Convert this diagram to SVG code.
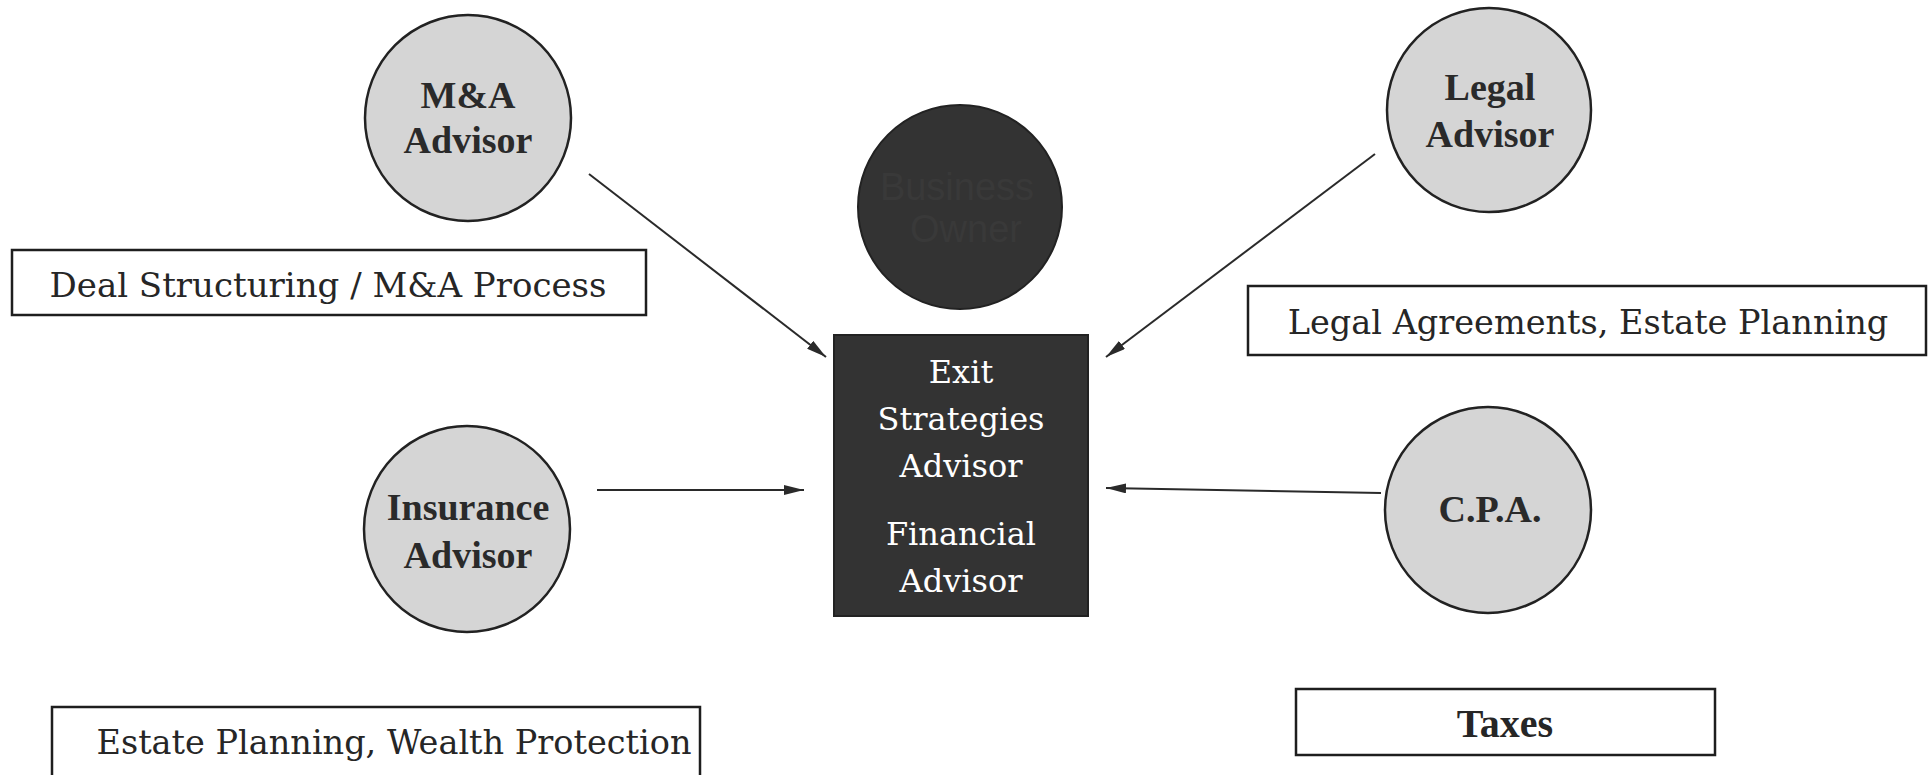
<svg xmlns="http://www.w3.org/2000/svg" width="1932" height="775" viewBox="0 0 1932 775">
  <style>
    .advisor circle { fill: #d5d5d5; stroke: #222; stroke-width: 2.5; }
    .advisor text { font-family: "Liberation Serif", serif; font-weight: bold; font-size: 38px; fill: #2a2a2a; text-anchor: middle; }
    .label rect { fill: #fff; stroke: #1e1e1e; stroke-width: 2.5; }
    .label text { font-family: "DejaVu Serif", serif; font-size: 33.5px; fill: #262626; text-anchor: middle; }
    .label text.wide { font-size: 34px; }
    .label text.bold { font-family: "Liberation Serif", serif; font-weight: bold; font-size: 40px; }
    .hub { fill: #333; stroke: #222; stroke-width: 2; }
    .hub-text { font-family: "DejaVu Serif", serif; font-size: 32px; fill: #fff; text-anchor: middle; }
    .owner-text { font-family: "Liberation Sans", sans-serif; font-size: 38px; fill: #393939; text-anchor: middle; }
    .conn { stroke: #2a2a2a; stroke-width: 2; fill: none; marker-end: url(#arrow); }
  </style>
  <defs>
    <marker id="arrow" viewBox="0 0 20 10" refX="20" refY="5" markerWidth="20" markerHeight="10" markerUnits="userSpaceOnUse" orient="auto">
      <path d="M0,0 L20,5 L0,10 Z" fill="#2a2a2a"/>
    </marker>
  </defs>
  <rect width="1932" height="775" fill="#fff"/>

  <!-- advisors around the hub -->
  <g id="ma-advisor" class="advisor">
    <circle cx="468" cy="118" r="103"/>
    <text x="468" y="108">M&amp;A</text>
    <text x="468" y="153">Advisor</text>
  </g>
  <g id="legal-advisor" class="advisor">
    <circle cx="1489" cy="110" r="102"/>
    <text x="1490" y="100">Legal</text>
    <text x="1490" y="147">Advisor</text>
  </g>
  <g id="insurance-advisor" class="advisor">
    <circle cx="467" cy="529" r="103"/>
    <text x="468" y="520">Insurance</text>
    <text x="468" y="568">Advisor</text>
  </g>
  <g id="cpa" class="advisor">
    <circle cx="1488" cy="510" r="103"/>
    <text x="1490" y="522">C.P.A.</text>
  </g>

  <!-- business owner -->
  <g id="business-owner">
    <circle class="hub" cx="960" cy="207" r="102"/>
    <text class="owner-text" x="957" y="200">Business</text>
    <text class="owner-text" x="966" y="242">Owner</text>
  </g>

  <!-- central advisor -->
  <g id="exit-financial-advisor">
    <rect class="hub" x="834" y="335" width="254" height="281"/>
    <text class="hub-text" x="961" y="383">Exit</text>
    <text class="hub-text" x="961" y="430">Strategies</text>
    <text class="hub-text" x="961" y="477">Advisor</text>
    <text class="hub-text" x="961" y="545">Financial</text>
    <text class="hub-text" x="961" y="592">Advisor</text>
  </g>

  <!-- service labels -->
  <g id="label-deal" class="label">
    <rect x="12" y="250" width="634" height="65"/>
    <text class="wide" x="328" y="297">Deal Structuring / M&amp;A Process</text>
  </g>
  <g id="label-legal" class="label">
    <rect x="1248" y="286" width="678" height="69"/>
    <text x="1588" y="334">Legal Agreements, Estate Planning</text>
  </g>
  <g id="label-estate" class="label">
    <rect x="52" y="707" width="648" height="80"/>
    <text x="394" y="754">Estate Planning, Wealth Protection</text>
  </g>
  <g id="label-taxes" class="label">
    <rect x="1296" y="689" width="419" height="66"/>
    <text class="bold" x="1505" y="737">Taxes</text>
  </g>

  <!-- connectors -->
  <g id="connectors">
    <line class="conn" x1="589" y1="174" x2="826" y2="357"/>
    <line class="conn" x1="1375" y1="154" x2="1106" y2="357"/>
    <line class="conn" x1="597" y1="490" x2="804" y2="490"/>
    <line class="conn" x1="1381" y1="493" x2="1106" y2="488"/>
  </g>
</svg>
